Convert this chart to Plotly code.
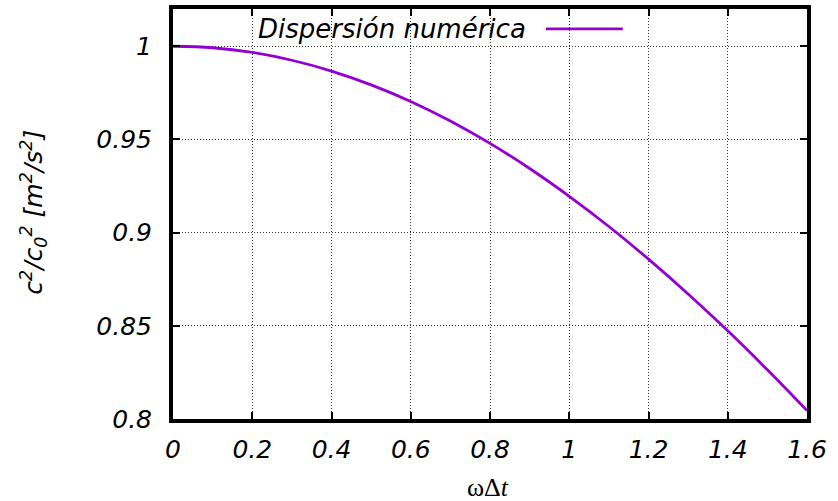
import plotly.graph_objects as go

# Numerical dispersion: squared phase-speed ratio against the normalised frequency
omega_dt = [0.0, 0.1, 0.2, 0.3, 0.4, 0.5, 0.6, 0.7, 0.8,
            0.9, 1.0, 1.1, 1.2, 1.3, 1.4, 1.5, 1.6]
c2_ratio = [1.000, 0.9992, 0.9967, 0.9925, 0.9867, 0.9793, 0.9704, 0.9599, 0.9479,
            0.9344, 0.9195, 0.9033, 0.8858, 0.8671, 0.8473, 0.8264, 0.8045]

x_ticks = [0, 0.2, 0.4, 0.6, 0.8, 1.0, 1.2, 1.4, 1.6]
x_tick_labels = ["0", "0.2", "0.4", "0.6", "0.8", "1", "1.2", "1.4", "1.6"]
y_ticks = [0.8, 0.85, 0.9, 0.95, 1.0]
y_tick_labels = ["0.8", "0.85", "0.9", "0.95", "1"]

series_name = "Dispersión numérica"
line_color = "#9400D3"

W, H = 838, 501
L, R, T, B = 172.5, 30.5, 5, 82
PW, PH = W - L - R, H - T - B

FAMILY = "DejaVu Sans, Liberation Sans, sans-serif"
tick_font = dict(family=FAMILY, size=25, color="black", style="italic")
key_font = dict(family=FAMILY, size=26, color="black", style="italic")

fig = go.Figure()
fig.add_trace(go.Scatter(
    x=omega_dt, y=c2_ratio, mode="lines", name=series_name,
    line=dict(color=line_color, width=2.8, shape="spline"),
    showlegend=False,
))

axis_common = dict(
    showline=True, linecolor="black", linewidth=4, mirror="allticks",
    ticks="inside", ticklen=7, tickwidth=2, tickcolor="black",
    showgrid=True, gridcolor="#333333", gridwidth=1, griddash="1px,2px",
    zeroline=False, tickfont=tick_font,
)

fig.update_xaxes(range=[0, 1.6], tickvals=x_ticks, ticktext=x_tick_labels,
                 ticklabelstandoff=5, **axis_common)
fig.update_yaxes(range=[0.8, 1.02], tickvals=y_ticks, ticktext=y_tick_labels,
                 ticklabelstandoff=12, **axis_common)

# Key: italic label followed by the line sample, gnuplot style
key_y = 1 - (25 - T) / PH
fig.add_annotation(
    xref="paper", yref="paper", x=(528 - L) / PW, y=key_y,
    xanchor="right", yanchor="middle", showarrow=False,
    text=series_name, font=key_font,
)
fig.add_shape(
    type="line", xref="paper", yref="paper",
    x0=(546 - L) / PW, x1=(623 - L) / PW,
    y0=key_y, y1=key_y, line=dict(color=line_color, width=2.8),
)

# Axis titles
fig.add_annotation(
    xref="paper", yref="paper", x=(488 - L) / PW, y=-(488 - (H - B)) / PH,
    xanchor="center", yanchor="middle", showarrow=False,
    text="ωΔ<i>t</i>",
    font=dict(family="Liberation Serif, Times New Roman, serif", size=26, color="black"),
)
fig.add_annotation(
    xref="paper", yref="paper", x=-(L - 33) / PW, y=1 - (210 - T) / PH,
    xanchor="center", yanchor="middle", showarrow=False, textangle=-90,
    text="c<sup>2</sup>/c<sub>0</sub><sup>2</sup> [m<sup>2</sup>/s<sup>2</sup>]",
    font=tick_font,
)

fig.update_layout(
    width=W, height=H,
    margin=dict(l=L, r=R, t=T, b=B),
    paper_bgcolor="white", plot_bgcolor="white",
    showlegend=False,
)

fig.write_html("out.html")
